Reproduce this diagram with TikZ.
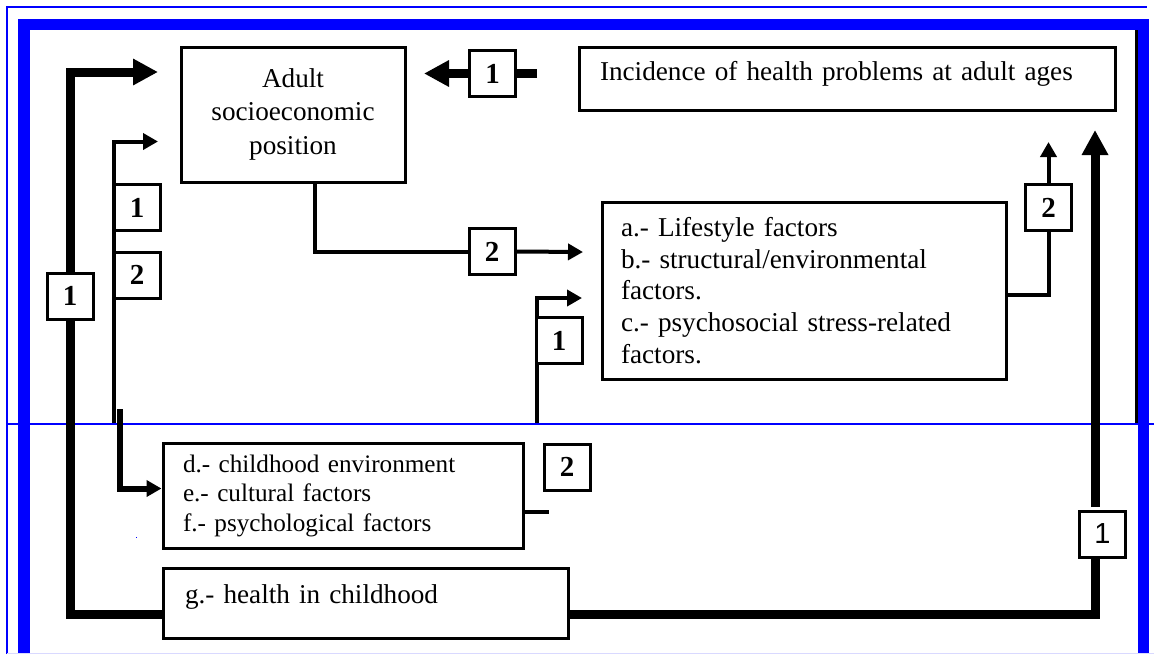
\documentclass[tikz,border=0pt]{standalone}
\usepackage{fontspec}
\setmainfont{Liberation Serif}
\setsansfont{Liberation Sans}
\usetikzlibrary{arrows.meta}
\begin{document}
\begin{tikzpicture}[x=0.5pt,y=-0.5pt,
  box/.style={draw, line width=1.5pt, fill=white, inner sep=0pt},
  num/.style={draw, line width=1.5pt, fill=white, minimum width=23pt, minimum height=23pt, inner sep=0pt, font=\fontsize{14.5}{14.5}\selectfont\bfseries},
  thinln/.style={line width=2pt},
  thickln/.style={line width=4.5pt},
  tipS/.style={-{Triangle[length=7.5pt,width=8pt]}},
  tipL/.style={-{Triangle[length=12.5pt,width=12.5pt]}},
  bigfont/.style={font=\fontsize{13.6}{16.75}\selectfont},
]
\useasboundingbox (0,0) rectangle (1154,654);
\fill[white] (0,0) rectangle (1154,654);
% frame
\draw[blue, line width=1pt] (7,654) -- (7,7) -- (1147,7);
\fill[blue] (18,19) rectangle (30,654);
\fill[blue] (18,19) rectangle (1149,30);
\fill[blue] (1138,19) rectangle (1149,654);
\draw[blue, line width=1pt] (7,424) -- (1154,424);
\draw[blue!15, line width=0.5pt] (7,653) -- (1154,653);
\draw[black, line width=1.5pt] (1136,30) -- (1136,423);
\fill[blue] (135.5,536.5) rectangle (137,538);

% main boxes
\node[box, minimum width=112pt, minimum height=67.5pt, align=center, font=\fontsize{13.6}{16.75}\selectfont] (adult) at (293,114.5) {Adult\\socioeconomic\\position\\[-13.5pt]};
\node[box, minimum width=268pt, inner xsep=10.5pt, text width=247pt, align=left, text height=16.5pt, text depth=15pt, bigfont] (inc) at (847,78.5) {Incidence of health problems at adult ages};
\node[box, minimum width=202pt, minimum height=88.5pt, inner xsep=9.5pt, text width=183pt, align=left, font=\fontsize{13.6}{15.9}\selectfont] (ls) at (804,290.5) {a.- Lifestyle factors\\b.- structural/environmental\\factors.\\c.- psychosocial stress-related\\factors.};
\node[box, minimum width=180pt, minimum height=52.5pt, inner xsep=10pt, text width=160pt, align=left, font=\fontsize{12.6}{14.75}\selectfont] (d) at (343,495.5) {d.- childhood environment\\e.- cultural factors\\f.- psychological factors};
\node[box, minimum width=202.5pt, inner xsep=11pt, text width=180.5pt, align=left, text height=17.5pt, text depth=17.5pt, bigfont] (g) at (365.5,603) {g.- health in childhood};

% number boxes
\node[num] (n1a) at (492.5,73.5) {1};
\node[num] (n1b) at (137,207.5) {1};
\node[num] (n2b) at (137,275) {2};
\node[num] (n1c) at (70,296) {1};
\node[num] (n2a) at (492,251.5) {2};
\node[num] (n1d) at (559,340.5) {1};
\node[num] (n2c) at (567,467) {2};
\node[num] (n2d) at (1048.5,207.5) {2};
\node[num, font=\fontsize{14.5}{14.5}\selectfont\sffamily] (n1e) at (1102.5,534) {1};

% free ends
\coordinate (incL) at (537,73.5);
\coordinate (adultR) at (424,73.5);
\coordinate (adultTL) at (158,72);
\coordinate (rb) at (1095,557);
\coordinate (rt) at (1095,507);
\coordinate (rtip) at (1095,130);
\coordinate (lb) at (113.5,423);
\coordinate (lt) at (158,141.5);
\coordinate (db) at (120,409);
\coordinate (lsin) at (583,252);
\coordinate (lsb) at (537,423);
\coordinate (lst) at (582,298);
\coordinate (incin) at (1048.5,142);

% thick connectors
\draw[thickln] (incL) -- (n1a.east);
\draw[thickln, tipL] (n1a.west) -- (adultR);
\draw[thickln] ([yshift=-5.5pt]g.west) -| (n1c.south);
\draw[thickln, tipL] (n1c.north) |- (adultTL);
\draw[thickln] ([yshift=-5.5pt]g.east) -| (rb);
\draw[thickln, tipL] (rt) -- (rtip);

% thin connectors
\draw[thinln, tipS] (lb) |- (lt);
\draw[line width=3pt, tipS] (db) |- ([yshift=3.5pt]d.west);
\draw[thinln] ([xshift=11pt]adult.south) |- (n2a.west);
\draw[thinln, tipS] (n2a.east) -- (lsin);
\draw[thinln, tipS] (lsb) |- (lst);
\draw[thinln] ([yshift=-2.25pt]ls.east) -| (n2d.south);
\draw[thinln, tipS] (n2d.north) -- (incin);
\draw[thinln] ([yshift=-8.25pt]d.east) -- ++(24,0);

% redraw number boxes on top of lines running along their edges
\node[num] at (n1b) {1};
\node[num] at (n2b) {2};
\node[num] at (n1d) {1};
\end{tikzpicture}
\end{document}
